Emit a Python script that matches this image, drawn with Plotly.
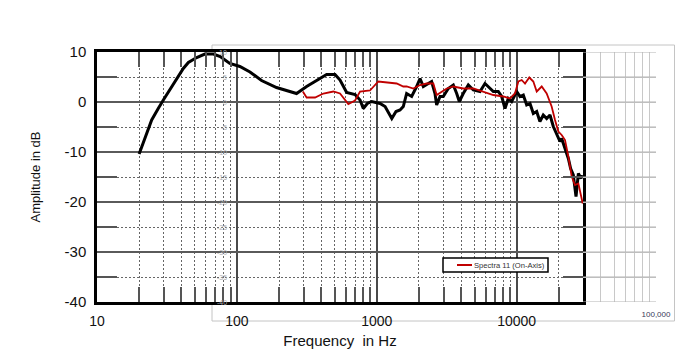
import plotly.graph_objects as go

# ---------------- data ----------------
freq_main = [20, 22.6, 24.6, 27.4, 29.8, 41.4, 45, 51.6, 59, 68, 76, 89, 105, 124, 150, 192,
             267, 315, 372, 438, 503, 546, 609, 699, 759, 801, 856, 920, 1055, 1146, 1280,
             1372, 1466, 1547, 1634, 1775, 1927, 2037, 2150, 2334, 2466, 2606, 2679, 2830,
             2986, 3243, 3524, 3725, 3890, 4150, 4511, 4898, 5468, 5934, 6268, 6808, 7387,
             7812, 8250, 8710, 9200, 9720, 10000, 10560, 11150, 11790, 12450, 13150, 13900,
             14660, 15490, 16380, 17300, 18270, 19300, 20390, 20970, 22150, 23400, 24300,
             25400, 26550, 27600, 28850, 29150]
db_main = [-10.4, -6.3, -3.6, -1.3, 0.4, 6.7, 7.9, 8.9, 9.6, 9.6, 9.1, 7.7, 7.1, 6.0, 4.3, 2.9,
           1.7, 3.1, 4.4, 5.5, 5.5, 4.4, 1.9, 1.5, 0.4, -1.3, -0.3, 0.1, -0.3, -0.9, -3.3,
           -1.9, -1.6, -0.9, 1.7, 1.1, 3.1, 4.7, 3.1, 3.7, 4.1, 1.7, -0.6, 1.1,
           1.1, 2.7, 3.4, 1.7, 0.1, 1.7, 3.4, 2.4, 2.1, 3.7, 3.1, 2.1, 2.1,
           1.1, -1.3, 0.7, 0.1, 1.4, 2.1, 1.1, 1.4, -0.6, -0.3, -2.3, -1.9,
           -3.9, -2.6, -3.3, -2.6, -4.9, -6.6, -7.9, -7.3, -9.3, -11.3, -13.3,
           -14.6, -18.9, -14.3, -15.3, -14.6]

freq_spectra = [296, 315, 362, 415, 489, 546, 626, 699, 759, 894, 1025, 1242, 1387, 1547,
                1634, 1825, 2037, 2270, 2535, 2679, 2911, 3162, 3524, 4150, 4898, 5768,
                6808, 8017, 8954, 9720, 10280, 10860, 11470, 12300, 13150, 13900, 15100,
                16380, 17780, 18790, 19860, 20970, 22150, 23400, 24730, 26120, 27600, 29650]
db_spectra = [2.1, 0.9, 0.9, 1.7, 2.1, 1.7, -0.4, 0.3, 2.1, 2.3, 4.1, 3.9, 3.7, 3.1,
              3.1, 2.7, 3.4, 3.7, 3.7, 1.4, 2.1, 2.7, 3.1, 2.7, 2.7, 2.1,
              1.4, 1.1, 0.7, 1.7, 4.1, 4.4, 3.7, 4.9, 4.1, 2.1, 3.1,
              1.7, -0.9, -3.6, -5.9, -6.6, -7.6, -10.9, -14.9, -16.6, -16.3, -20.3]

series_name = "Spectra 11 (On-Axis)"

x_tick_vals = [10, 100, 1000, 10000]
x_tick_text = ["10", "100", "1000", "10000"]
x_minor_vals = [m * d for d in (10, 100, 1000, 10000) for m in range(2, 10)]
y_tick_vals = [-40, -30, -20, -10, 0, 10]
y_tick_text = ["-40", "-30", "-20", "-10", "0", "10"]
y_minor_vals = [-35, -25, -15, -5, 5]

overlay_y_vals = [-40, -35, -30, -25, -20, -15, -10, -5, 0, 5, 10]
overlay_x_grid = [30000, 40000, 50000, 60000, 70000, 80000, 90000, 100000]
overlay_x_label_vals = [100000]
overlay_x_label_text = ["100,000"]

# ---------------- layout constants (screen px; body margin removed in the page) ----------------
W, H = 676, 362
PLOT_L, PLOT_R, PLOT_T, PLOT_B = 97, 656, 52, 302
ML, MT = PLOT_L, PLOT_T
MR, MB = W - PLOT_R, H - PLOT_B
PW = PLOT_R - PLOT_L
PH = PLOT_B - PLOT_T
MAIN_RIGHT_PX = 583


def px_x(px):
    return (px - PLOT_L) / PW


def px_y(py):
    return (PLOT_B - py) / PH


main_end = px_x(MAIN_RIGHT_PX)
FONT = "Liberation Sans, Arial, sans-serif"
GRID_FAINT = "#c8c8c8"

fig = go.Figure()

fig.add_trace(go.Scatter(x=freq_main, y=db_main, mode="lines",
                         line=dict(color="#000000", width=3),
                         showlegend=False, xaxis="x", yaxis="y"))
fig.add_trace(go.Scatter(x=freq_spectra, y=db_spectra, mode="lines", name=series_name,
                         line=dict(color="#C00000", width=1.8),
                         showlegend=False, xaxis="x", yaxis="y"))
# empty trace so that the faint overlay grid strip (x2/y2) is rendered
fig.add_trace(go.Scatter(x=[], y=[], mode="lines", showlegend=False,
                         hoverinfo="skip", xaxis="x2", yaxis="y2"))

fig.update_layout(
    width=W, height=H,
    margin=dict(l=ML, r=MR, t=MT, b=MB, autoexpand=False),
    paper_bgcolor="white", plot_bgcolor="white",
    font=dict(family=FONT, color="#000000"),
    showlegend=False,
    xaxis=dict(
        type="log", domain=[0, main_end], range=[1, 4.474], anchor="y", automargin=False,
        tickmode="array", tickvals=x_tick_vals, ticktext=x_tick_text,
        tickfont=dict(size=14, color="#111111"),
        ticks="inside", ticklen=0, ticklabelstandoff=4,
        showgrid=True, gridcolor="#4a4a4a", gridwidth=2,
        minor=dict(tickmode="array", tickvals=x_minor_vals, ticks="inside", ticklen=15,
                   tickcolor="#555555", tickwidth=1.5, showgrid=True,
                   gridcolor="#666666", gridwidth=1.4, griddash="2px,2px"),
        showline=True, linecolor="#000000", linewidth=2.5, mirror="ticks",
        zeroline=False,
        title=dict(text="Frequency  in Hz", font=dict(size=15, color="#111111"), standoff=8),
    ),
    yaxis=dict(
        domain=[0, 1], range=[-40, 10], anchor="x", automargin=False,
        tickmode="array", tickvals=y_tick_vals, ticktext=y_tick_text,
        tickfont=dict(size=15, color="#111111"),
        ticks="inside", ticklen=0, ticklabelstandoff=5,
        showgrid=True, gridcolor="#5a5a5a", gridwidth=1.6,
        minor=dict(tickmode="array", tickvals=y_minor_vals, ticks="inside", ticklen=20,
                   tickcolor="#555555", tickwidth=1.5, showgrid=True,
                   gridcolor="#666666", gridwidth=1.4, griddash="2px,2px"),
        showline=True, linecolor="#000000", linewidth=2.5, mirror="ticks",
        zeroline=False,
        title=dict(text="Amplitude in dB", font=dict(size=13, color="#111111"), standoff=22),
    ),
    xaxis2=dict(
        type="log", domain=[main_end, 1], range=[4.474, 5.0], anchor="y2", automargin=False,
        tickmode="array", tickvals=overlay_x_label_vals, ticktext=overlay_x_label_text,
        tickfont=dict(size=8, color="#3a3a5a"), ticks="", ticklabelstandoff=6,
        showgrid=True, gridcolor=GRID_FAINT, gridwidth=1,
        minor=dict(tickmode="array", tickvals=overlay_x_grid, ticks="", showgrid=True,
                   gridcolor=GRID_FAINT, gridwidth=1),
        showline=False, zeroline=False,
    ),
    yaxis2=dict(
        domain=[0, 1], range=[-40, 10], anchor="x2", automargin=False,
        tickmode="array", tickvals=overlay_y_vals, showticklabels=False,
        ticks="", showgrid=True, gridcolor=GRID_FAINT, gridwidth=1,
        showline=False, zeroline=False,
    ),
)

# horizontal faint grid of the overlay strip, placed through the y2 axis
for v in overlay_y_vals:
    fig.add_shape(type="line", xref="x2 domain", yref="y2", x0=0, x1=1, y0=v, y1=v,
                  line=dict(color="#b4b4b4", width=1.2), layer="above")

# faint overlay frame (only the parts outside the main plot area)
fx0, fx1 = px_x(212), px_x(674.5)
fy0, fy1 = px_y(321), px_y(45)
ytop, ybot = px_y(52), px_y(302)
frame_path = (f"M {fx0} {ybot} L {fx0} {fy0} L {fx1} {fy0} L {fx1} {fy1} "
              f"L {fx0} {fy1} L {fx0} {ytop}")
fig.add_shape(type="path", path=frame_path, xref="paper", yref="paper",
              line=dict(color="#c4c4c4", width=1), layer="below")

# faint overlay y labels
for v in overlay_y_vals:
    fig.add_annotation(x=px_x(229), y=v, xref="paper", yref="y", xanchor="right",
                       yanchor="middle", text=str(v), showarrow=False,
                       font=dict(size=7, color="#b0b0b0"))

# legend box
fig.add_shape(type="rect", xref="paper", yref="paper",
              x0=px_x(443), x1=px_x(548), y0=px_y(272), y1=px_y(258),
              line=dict(color="#000000", width=1.5), fillcolor="white", layer="above")
fig.add_shape(type="line", xref="paper", yref="paper",
              x0=px_x(457), x1=px_x(472), y0=px_y(265), y1=px_y(265),
              line=dict(color="#C00000", width=2), layer="above")
fig.add_annotation(x=px_x(472), y=px_y(265), xref="paper", yref="paper",
                   xanchor="left", yanchor="middle", text=series_name, showarrow=False,
                   font=dict(size=7.6, color="#333333"))

fig.write_html("out.html",
               config={"displayModeBar": False},
               post_script="document.body.style.margin='0';"
                           "document.body.style.overflow='hidden';")
